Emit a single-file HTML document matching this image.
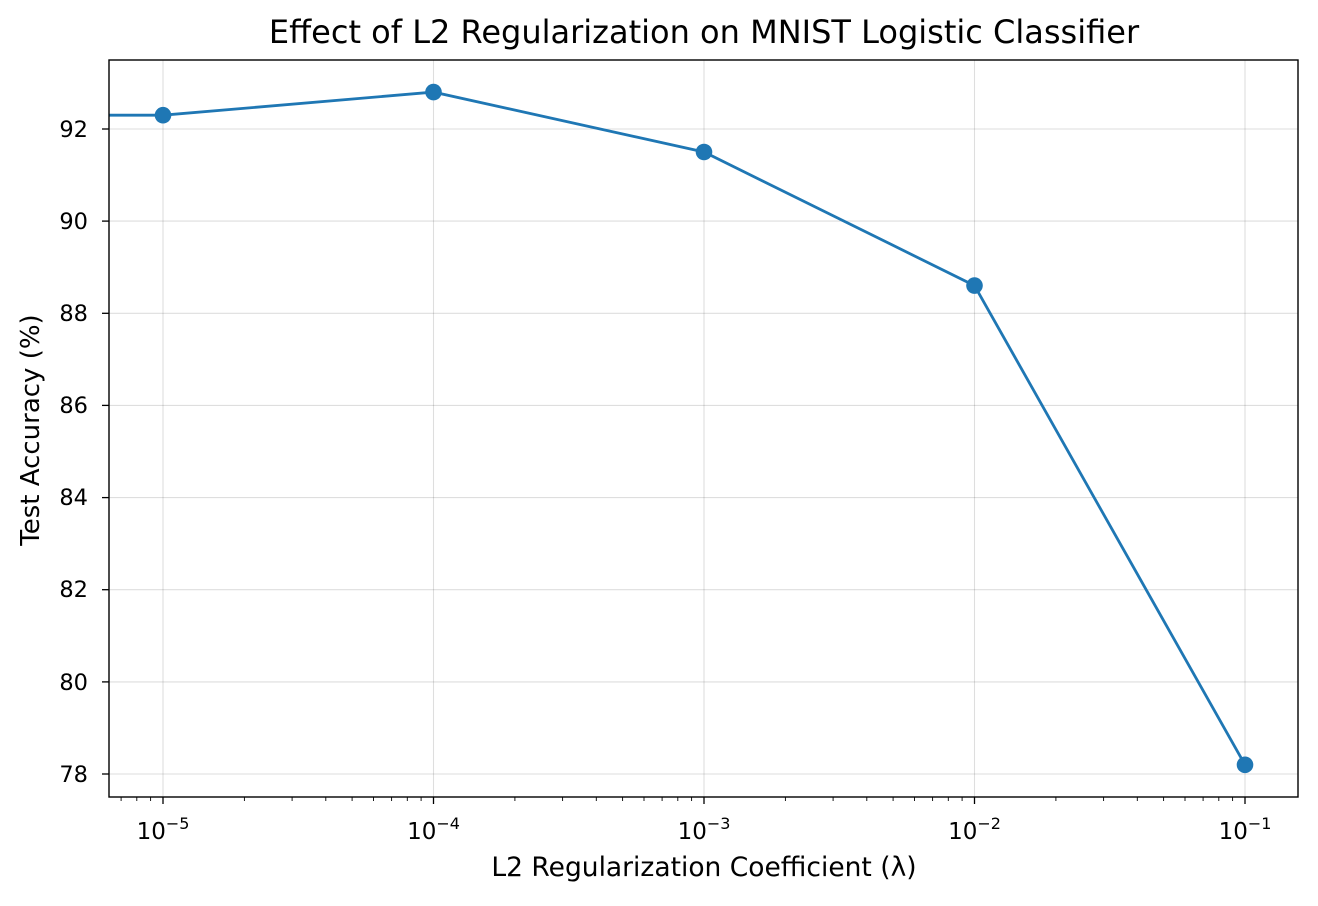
<!DOCTYPE html>
<html><head><meta charset="utf-8"><style>
body{margin:0;background:#fff;}
svg text{font-family:"DejaVu Sans","Liberation Sans",sans-serif;fill:#000;}
</style></head><body>
<svg width="1318" height="901" viewBox="0 0 1318 901" xmlns="http://www.w3.org/2000/svg">
<rect width="1318" height="901" fill="#fff"/>
<g stroke="#000" stroke-opacity="0.13" stroke-width="1.1">
<line x1="163" y1="60" x2="163" y2="797"/><line x1="433.5" y1="60" x2="433.5" y2="797"/><line x1="704" y1="60" x2="704" y2="797"/><line x1="974.5" y1="60" x2="974.5" y2="797"/><line x1="1245" y1="60" x2="1245" y2="797"/>
<line x1="109" y1="129" x2="1298" y2="129"/><line x1="109" y1="221.1" x2="1298" y2="221.1"/><line x1="109" y1="313.3" x2="1298" y2="313.3"/><line x1="109" y1="405.4" x2="1298" y2="405.4"/><line x1="109" y1="497.6" x2="1298" y2="497.6"/><line x1="109" y1="589.7" x2="1298" y2="589.7"/><line x1="109" y1="681.9" x2="1298" y2="681.9"/><line x1="109" y1="774" x2="1298" y2="774"/>
</g>
<polyline fill="none" stroke="#1f77b4" stroke-width="2.8" points="109,115.2 163,115.2 433.5,92.1 704,152 974.5,285.6 1245,764.8"/>
<g fill="#1f77b4"><circle cx="163" cy="115.2" r="8.3"/><circle cx="433.5" cy="92.1" r="8.3"/><circle cx="704" cy="152" r="8.3"/><circle cx="974.5" cy="285.6" r="8.3"/><circle cx="1245" cy="764.8" r="8.3"/></g>
<rect x="109" y="60" width="1189" height="737" fill="none" stroke="#000" stroke-width="1.4"/>
<g stroke="#000" stroke-width="1.3">
<line x1="163" y1="797" x2="163" y2="804"/><line x1="433.5" y1="797" x2="433.5" y2="804"/><line x1="704" y1="797" x2="704" y2="804"/><line x1="974.5" y1="797" x2="974.5" y2="804"/><line x1="1245" y1="797" x2="1245" y2="804"/>
<line x1="102" y1="129" x2="109" y2="129"/><line x1="102" y1="221.1" x2="109" y2="221.1"/><line x1="102" y1="313.3" x2="109" y2="313.3"/><line x1="102" y1="405.4" x2="109" y2="405.4"/><line x1="102" y1="497.6" x2="109" y2="497.6"/><line x1="102" y1="589.7" x2="109" y2="589.7"/><line x1="102" y1="681.9" x2="109" y2="681.9"/><line x1="102" y1="774" x2="109" y2="774"/>
</g>
<g stroke="#000" stroke-width="0.9">
<path d="M121.1 797v4M136.8 797v4M150.6 797v4
M244.4 797v4M292.1 797v4M325.8 797v4M352.1 797v4M373.5 797v4M391.6 797v4M407.3 797v4M421.1 797v4
M514.9 797v4M562.6 797v4M596.3 797v4M622.6 797v4M644 797v4M662.1 797v4M677.8 797v4M691.6 797v4
M785.4 797v4M833.1 797v4M866.8 797v4M893.1 797v4M914.5 797v4M932.6 797v4M948.3 797v4M962.1 797v4
M1055.9 797v4M1103.6 797v4M1137.3 797v4M1163.6 797v4M1185 797v4M1203.1 797v4M1218.8 797v4M1232.6 797v4"/>
</g>
<g font-size="23" text-anchor="middle">
<text x="163" y="839">10<tspan font-size="16" dy="-10">−5</tspan></text>
<text x="433.5" y="839">10<tspan font-size="16" dy="-10">−4</tspan></text>
<text x="704" y="839">10<tspan font-size="16" dy="-10">−3</tspan></text>
<text x="974.5" y="839">10<tspan font-size="16" dy="-10">−2</tspan></text>
<text x="1245" y="839">10<tspan font-size="16" dy="-10">−1</tspan></text>
</g>
<g font-size="22.5" text-anchor="end">
<text x="88" y="137">92</text><text x="88" y="229">90</text><text x="88" y="321">88</text><text x="88" y="413">86</text><text x="88" y="505">84</text><text x="88" y="597">82</text><text x="88" y="690">80</text><text x="88" y="782">78</text>
</g>
<text x="704" y="876" font-size="26.5" text-anchor="middle">L2 Regularization Coefficient (λ)</text>
<text transform="translate(39,430) rotate(-90)" font-size="26" text-anchor="middle">Test Accuracy (%)</text>
<text x="704" y="43" font-size="32" text-anchor="middle">Effect of L2 Regularization on MNIST Logistic Classifier</text>
</svg>
</body></html>
